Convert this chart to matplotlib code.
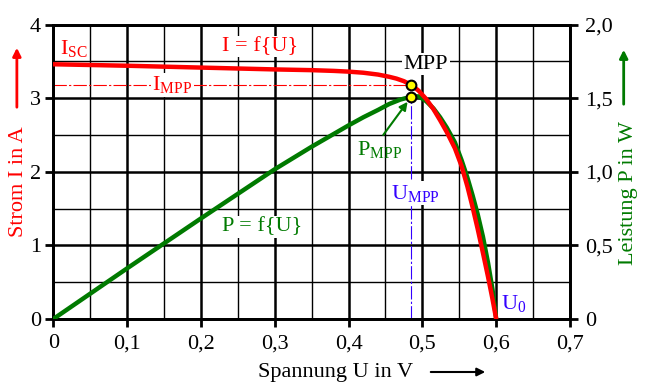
import numpy as np
import matplotlib.pyplot as plt
from matplotlib.patches import FancyArrowPatch
from matplotlib.ticker import MultipleLocator

plt.rcParams['font.family'] = ['Liberation Serif', 'DejaVu Serif']
plt.rcParams['mathtext.fontset'] = 'custom'
plt.rcParams['mathtext.rm'] = 'Liberation Serif'
plt.rcParams['mathtext.it'] = 'Liberation Serif:italic'

# Kennlinie I = f(U)
u_i = [0, 0.1, 0.2, 0.3, 0.35, 0.38, 0.40, 0.42, 0.44, 0.455, 0.465, 0.475, 0.485,
       0.495, 0.505, 0.515, 0.524, 0.533, 0.544, 0.553, 0.561, 0.568, 0.575, 0.582,
       0.589, 0.595, 0.6]
strom = [3.46, 3.44, 3.415, 3.39, 3.38, 3.37, 3.36, 3.345, 3.32, 3.29, 3.265, 3.23, 3.18,
         3.10, 2.99, 2.85, 2.70, 2.54, 2.32, 2.08, 1.80, 1.52, 1.22, 0.90,
         0.57, 0.27, 0.0]

# Leistung P = f(U)
u_p = [0, 0.1, 0.2, 0.3, 0.35, 0.4, 0.42, 0.44, 0.455, 0.47, 0.485, 0.495, 0.505,
       0.515, 0.524, 0.533, 0.544, 0.553, 0.561, 0.568, 0.575, 0.582, 0.589, 0.595, 0.6]
leistung = [0, 0.344, 0.683, 1.017, 1.17, 1.315, 1.37, 1.42, 1.46, 1.49, 1.51, 1.512, 1.48,
            1.43, 1.37, 1.30, 1.20, 1.08, 0.96, 0.84, 0.71, 0.56, 0.38, 0.20, 0.0]

u_mpp, i_mpp, p_mpp = 0.485, 3.18, 1.51

x_ticks = [0, 0.1, 0.2, 0.3, 0.4, 0.5, 0.6, 0.7]
x_labels = ['0', '0,1', '0,2', '0,3', '0,4', '0,5', '0,6', '0,7']
i_ticks = [0, 1, 2, 3, 4]
p_ticks = [0, 0.5, 1.0, 1.5, 2.0]
p_labels = ['0', '0,5', '1,0', '1,5', '2,0']

RED = '#ff0000'
GREEN = '#007a00'
BLUE = '#3300ff'

fig = plt.figure(figsize=(6.49, 3.89), dpi=100)
ax = fig.add_axes([0.0821, 0.1799, 0.7962, 0.7571])
ax2 = ax.twinx()

ax.set_xlim(0, 0.7)
ax.set_ylim(0, 4)
ax2.set_ylim(0, 2)

ax.set_xticks(x_ticks)
ax.set_xticklabels(x_labels)
ax.set_yticks(i_ticks)
ax2.set_yticks(p_ticks)
ax2.set_yticklabels(p_labels)
ax.xaxis.set_minor_locator(MultipleLocator(0.05))
ax.yaxis.set_minor_locator(MultipleLocator(0.5))

# Gitter auf der unteren Achse
ax.set_axisbelow(True)
ax.grid(True, which='major', color='black', lw=1.8)
ax.grid(True, which='minor', color='black', lw=1.0)

for a in (ax, ax2):
    for s in a.spines.values():
        s.set_linewidth(2)
    a.tick_params(which='major', direction='out', length=6, width=2,
                  labelsize=16, pad=3)
    a.tick_params(which='minor', length=0)
ax.tick_params(axis='x', pad=5)
ax2.tick_params(axis='y', pad=5)

# Hilfslinien MPP
ax.plot([0, u_mpp], [i_mpp, i_mpp], color=RED, lw=0.8, ls=(0, (12, 2, 2, 2)), zorder=2)
ax.plot([u_mpp, u_mpp], [0, p_mpp * 2], color=BLUE, lw=0.8, ls=(0, (12, 2, 2, 2)), zorder=2)

white = dict(facecolor='white', edgecolor='none', pad=1)
fs = 16
ax.text(0.009, 3.68, r'I$_{\mathrm{SC}}$', color=RED, fontsize=fs, ha='left', va='center')
ax.text(0.28, 3.70, 'I = f{U}', color=RED, fontsize=fs, ha='center', va='center', bbox=white)
ax.text(0.161, 3.18, r'I$_{\mathrm{MPP}}$', color=RED, fontsize=fs, ha='center', va='center',
        bbox=white, zorder=4)
ax.text(0.505, 3.46, 'MPP', color='black', fontsize=fs, ha='center', va='center', bbox=white)
ax.text(0.442, 2.30, r'P$_{\mathrm{MPP}}$', color=GREEN, fontsize=fs, ha='center', va='center')
ax.annotate('', xy=(0.480, 2.95), xytext=(0.447, 2.50),
            arrowprops=dict(arrowstyle='-|>', color=GREEN, lw=1.5, mutation_scale=12,
                            shrinkA=0, shrinkB=0))
ax.text(0.49, 1.71, r'U$_{\mathrm{MPP}}$', color=BLUE, fontsize=fs, ha='center', va='center',
        bbox=white, zorder=4)
ax.text(0.607, 0.21, r'U$_0$', color=BLUE, fontsize=fs, ha='left', va='center')
ax.text(0.283, 1.25, 'P = f{U}', color=GREEN, fontsize=fs, ha='center', va='center', bbox=white)

# Kurven auf der oberen Achse, Strom im Massstab der linken Achse
ax2.plot(u_p, leistung, color=GREEN, lw=3.2, solid_joinstyle='round', zorder=3)
ax2.plot(u_i, strom, color=RED, lw=3.2, solid_joinstyle='round', zorder=3,
         transform=ax.transData)
ax2.plot([u_mpp, u_mpp], [i_mpp, p_mpp * 2], 'o', ms=7, mfc='#ffff00', mec='black',
         mew=1.5, zorder=5, transform=ax.transData)
ax2.set_ylim(0, 2)

# Achsbeschriftungen mit Pfeilen
fig.text(0.028, 0.532, 'Strom I in A', color=RED, fontsize=16, rotation=90,
         ha='center', va='center')
fig.patches.append(FancyArrowPatch(
    (0.026, 1 - 110 / 389), (0.026, 1 - 45 / 389), transform=fig.transFigure,
    arrowstyle='-|>', mutation_scale=12, color=RED, lw=2))

fig.text(0.968, 0.505, 'Leistung P in W', color=GREEN, fontsize=16, rotation=90,
         ha='center', va='center')
fig.patches.append(FancyArrowPatch(
    (0.961, 1 - 107 / 389), (0.961, 1 - 47 / 389), transform=fig.transFigure,
    arrowstyle='-|>', mutation_scale=12, color=GREEN, lw=2))

fig.text(336 / 649, 1 - 373 / 389, 'Spannung U in V', color='black', fontsize=16,
         ha='center', va='center')
fig.patches.append(FancyArrowPatch(
    (428 / 649, 1 - 372 / 389), (488 / 649, 1 - 372 / 389), transform=fig.transFigure,
    arrowstyle='-|>', mutation_scale=12, color='black', lw=1.5))

fig.savefig('out.png', dpi=100)
